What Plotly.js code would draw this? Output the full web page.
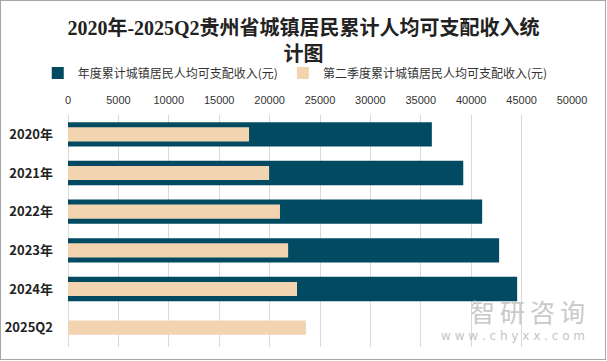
<!DOCTYPE html>
<html>
<head>
<meta charset="utf-8">
<script src="https://cdn.plot.ly/plotly-3.0.1.min.js"></script>
<style>
html,body{margin:0;padding:0;background:#fff;}
#wrap{position:relative;width:607px;height:361px;}
#chart{position:absolute;left:0;top:0;width:607px;height:361px;}
#frame{position:absolute;left:0;top:0;width:606px;height:360px;box-sizing:border-box;border:1px solid #a6a6a6;pointer-events:none;}
</style>
</head>
<body>
<div id="wrap"><div id="chart"></div><div id="frame"></div></div>
<script>
const categories = ['2020年','2021年','2022年','2023年','2024年','2025Q2'];
const annualIncome = [36096, 39211, 41086, 42772, 44560, null];
const q2Income = [17960, 19950, 21030, 21840, 22720, 23600];
const seriesNames = ['年度累计城镇居民人均可支配收入(元)', '第二季度累计城镇居民人均可支配收入(元)'];
const xTickVals = [0,5000,10000,15000,20000,25000,30000,35000,40000,45000,50000];

const traces = [
  {
    type:'bar', orientation:'h', name:seriesNames[0],
    y:categories, x:annualIncome, width:0.63,
    marker:{color:'#014A62'}, hoverinfo:'x+y'
  },
  {
    type:'bar', orientation:'h', name:seriesNames[1],
    y:categories, x:q2Income, width:0.365,
    marker:{color:'#F3D4B1'}, hoverinfo:'x+y'
  }
];

const layout = {
  width:607, height:361,
  paper_bgcolor:'#ffffff', plot_bgcolor:'#ffffff',
  margin:{l:68, r:35, t:115, b:14, pad:0},
  barmode:'overlay',
  showlegend:true,
  title:{
    text:'2020年-2025Q2贵州省城镇居民累计人均可支配收入统<br>计图',
    font:{family:'"Liberation Serif","Noto Sans CJK SC",serif', size:20, color:'#222222', weight:'bold'},
    x:0.5, xref:'container', xanchor:'center',
    y:0.903, yref:'container', yanchor:'middle'
  },
  legend:{
    orientation:'h', x:-0.06, xref:'paper', xanchor:'left',
    y:1.181, yref:'paper', yanchor:'middle',
    font:{family:'"Noto Sans CJK SC","Noto Sans",sans-serif', size:12, color:'#333333'},
    itemwidth:30, traceorder:'normal', borderwidth:0, bgcolor:'rgba(0,0,0,0)'
  },
  xaxis:{
    side:'top', range:[0,50000], tickvals:xTickVals,
    ticktext:xTickVals.map(String),
    showgrid:true, gridcolor:'#d9d9d9', gridwidth:1,
    zeroline:true, zerolinecolor:'#d9d9d9', zerolinewidth:1,
    showline:false, ticks:'', ticklabelstandoff:8,
    tickfont:{family:'"Liberation Sans","Noto Sans",sans-serif', size:11, color:'#333333'},
    fixedrange:true
  },
  yaxis:{
    type:'category', categoryorder:'array', categoryarray:categories,
    autorange:'reversed',
    showgrid:false, zeroline:false, showline:false, ticks:'',
    ticklen:0, ticklabelstandoff:14,
    tickfont:{family:'"Noto Sans CJK SC","Noto Sans",sans-serif', size:13, color:'#222222', weight:'bold'},
    fixedrange:true
  },
  annotations:[
    {text:'智\u2009研\u2009咨\u2009询', xref:'paper', yref:'paper', x:1.03, y:0.155, xanchor:'right', yanchor:'middle',
     showarrow:false, font:{family:'"Noto Sans CJK SC",sans-serif', size:25, color:'#c9c9c9'}},
    {text:'w w w . c h y x x . c o m', xref:'paper', yref:'paper', x:1.03, y:0.047, xanchor:'right', yanchor:'middle',
     showarrow:false, font:{family:'"DejaVu Sans",sans-serif', size:12, color:'#c4c4c4'}}
  ]
};

Plotly.newPlot('chart', traces, layout, {displayModeBar:false, staticPlot:true});
</script>
</body>
</html>
